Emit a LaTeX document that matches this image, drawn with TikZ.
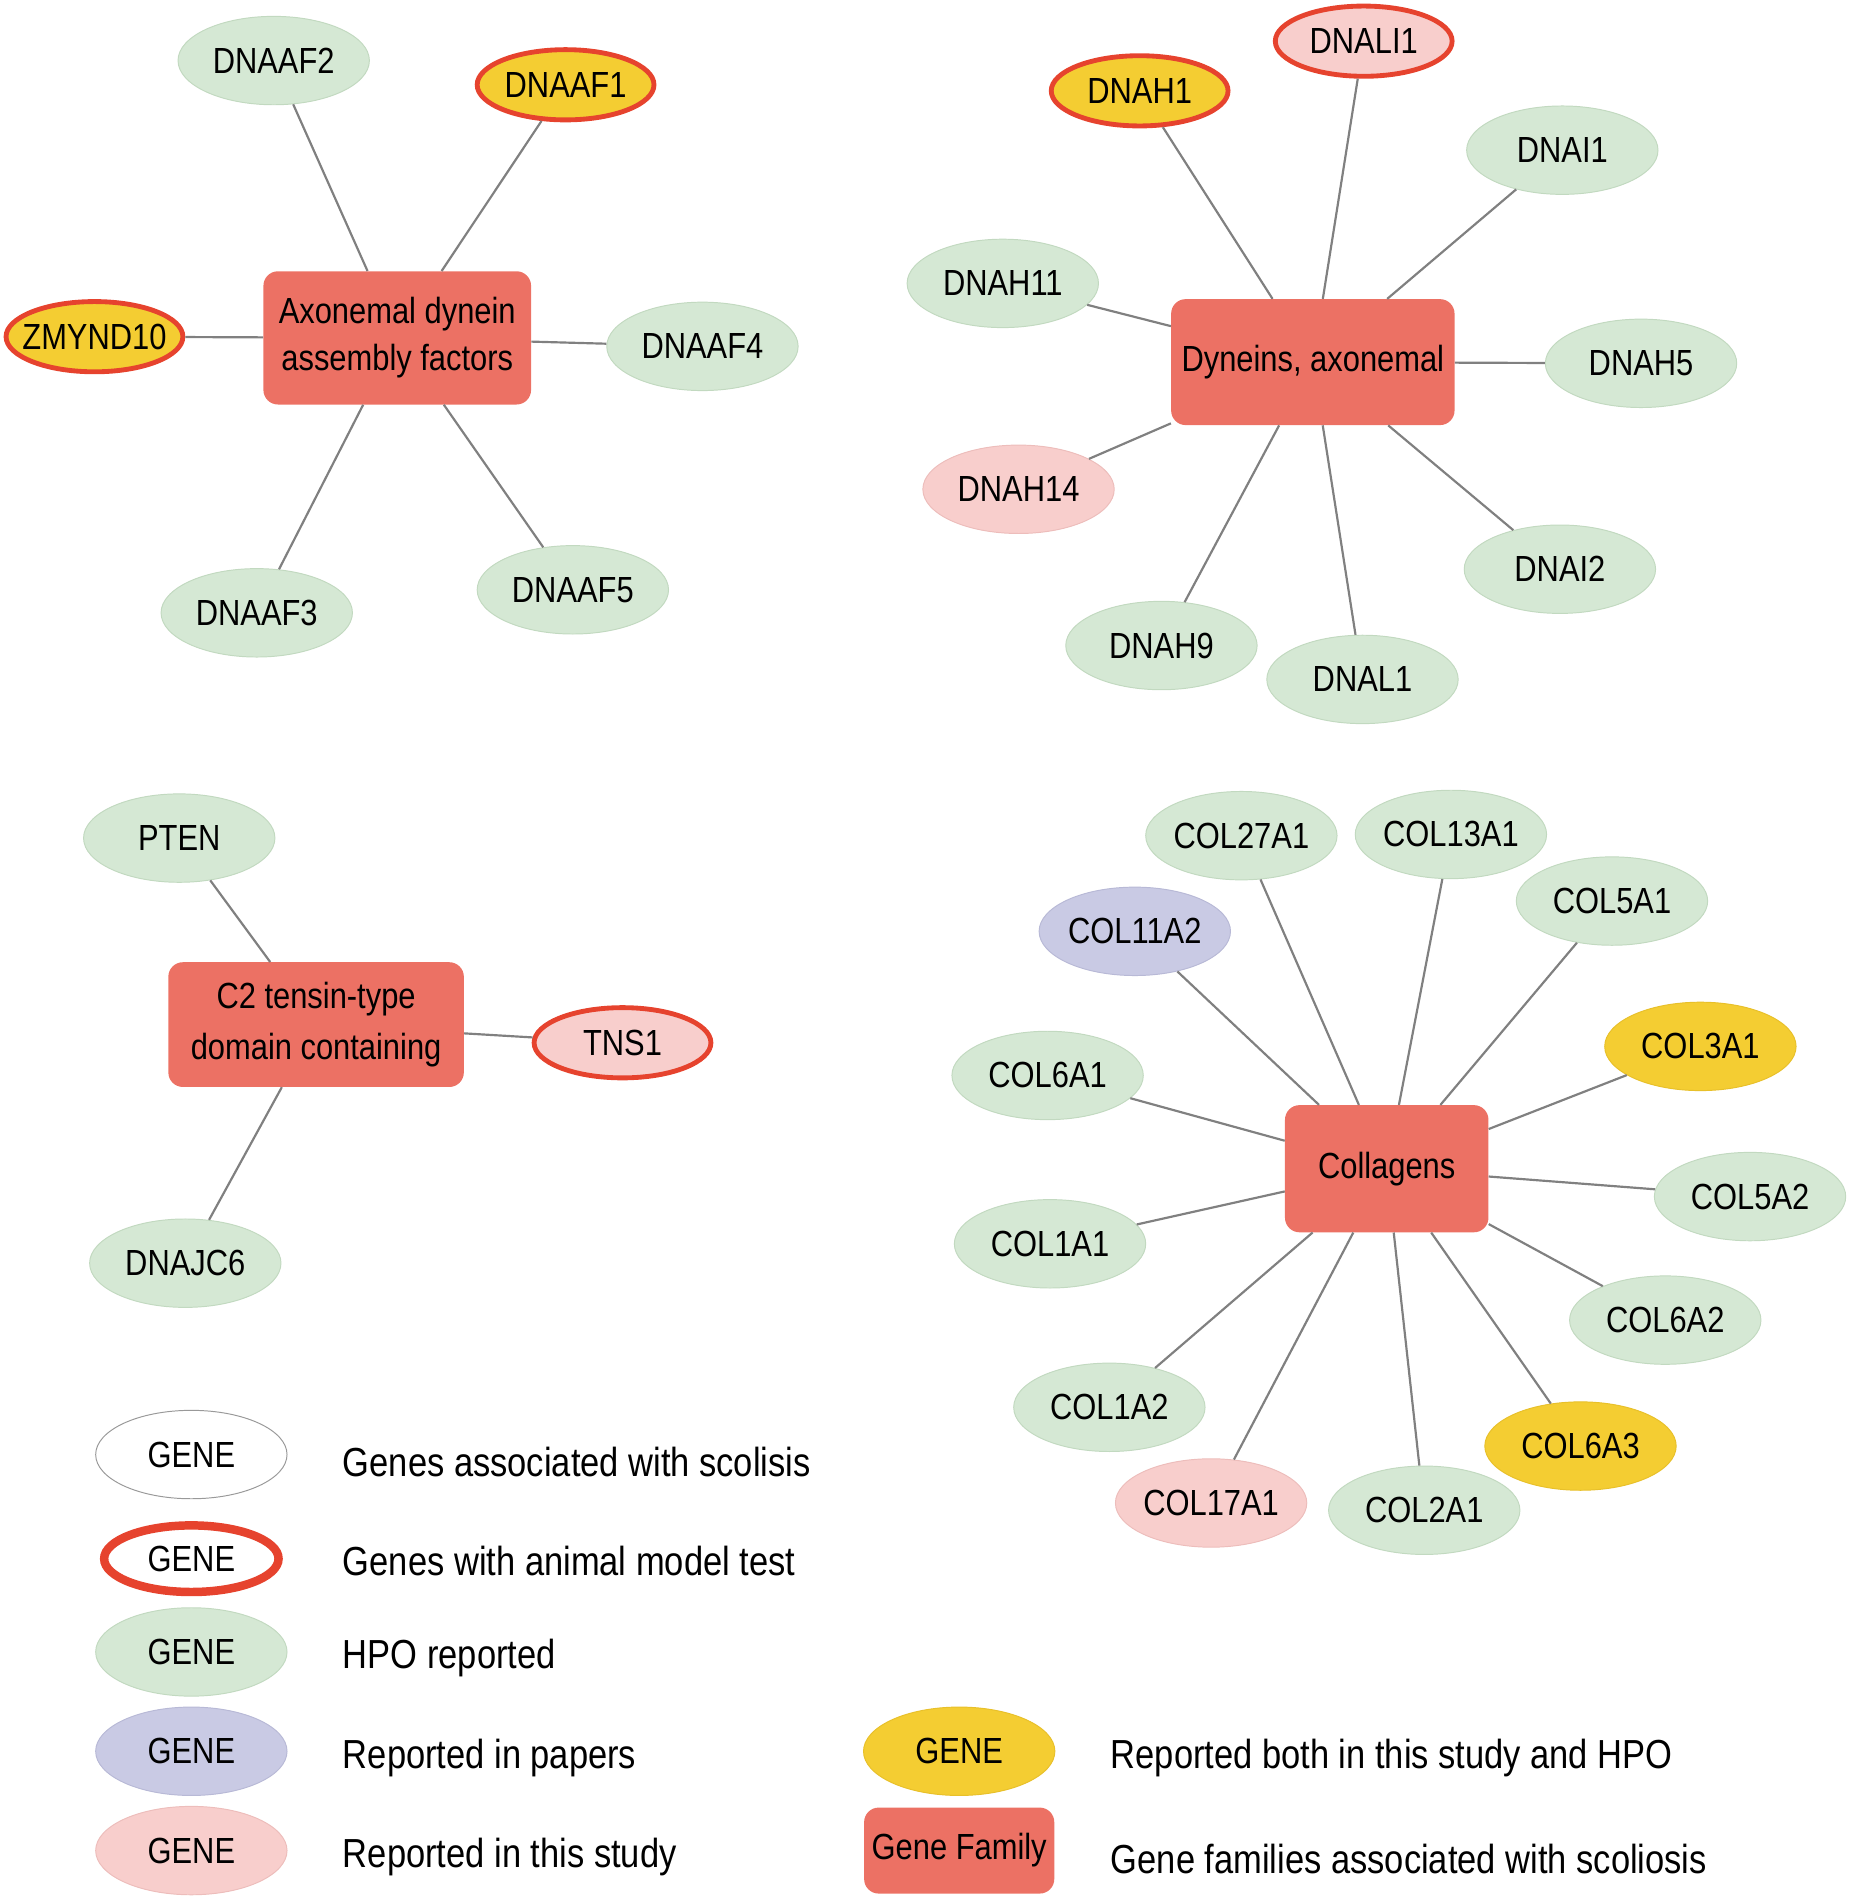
\documentclass[tikz,border=0pt]{standalone}
\usepackage{fontspec}
\setmainfont{Liberation Sans}[FakeStretch=0.85]
\usetikzlibrary{shapes.geometric}
\definecolor{hpogreen}{HTML}{D5E8D4}
\definecolor{hpoedge}{HTML}{C2D9C0}
\definecolor{studypink}{HTML}{F8CECC}
\definecolor{pinkedge}{HTML}{EDBDBB}
\definecolor{paperpurple}{HTML}{C9CAE4}
\definecolor{purpleedge}{HTML}{B8B9D6}
\definecolor{bothyellow}{HTML}{F4CD32}
\definecolor{yellowedge}{HTML}{E8C02A}
\definecolor{animalred}{HTML}{E6432E}
\definecolor{famred}{HTML}{EC7164}
\definecolor{linkgray}{HTML}{808080}
\newcommand{\nodefnt}{\fontsize{30}{39}\selectfont}
\newcommand{\legfnt}{\fontsize{33.5}{40}\selectfont}
\newcommand{\gn}[1]{\makebox[0pt]{#1}}
\tikzset{
  gene/.style={ellipse, minimum width=158pt, minimum height=73pt, inner sep=0pt, font=\nodefnt},
  hpo/.style={gene, fill=hpogreen, draw=hpoedge, line width=0.8pt},
  study/.style={gene, fill=studypink, draw=pinkedge, line width=0.8pt},
  paper/.style={gene, fill=paperpurple, draw=purpleedge, line width=0.8pt},
  both/.style={gene, fill=bothyellow, draw=yellowedge, line width=0.8pt},
  animal/.style={minimum width=146pt, minimum height=58pt, draw=animalred, line width=4pt},
  family/.style={rectangle, rounded corners=12pt, fill=famred, inner sep=0pt, font=\nodefnt, align=center},
  link/.style={draw=linkgray, line width=1.8pt},
  legtext/.style={anchor=base west, inner sep=0pt, font=\legfnt}
}
\begin{document}
\begin{tikzpicture}[x=1pt,y=-1pt]
\useasboundingbox (0,0) rectangle (1527,1568);
% ---------- cluster 1 ----------
\node[family, minimum width=221pt, minimum height=110pt] (f1) at (328,279) {Axonemal dynein\\assembly factors};
\node[hpo] (dnaaf2) at (226,50) {\gn{DNAAF2}};
\node[both, animal] (dnaaf1) at (467,70) {\gn{DNAAF1}};
\node[both, animal] (zmynd10) at (78,278) {\gn{ZMYND10}};
\node[hpo] (dnaaf4) at (580,286) {\gn{DNAAF4}};
\node[hpo] (dnaaf3) at (212,506) {\gn{DNAAF3}};
\node[hpo] (dnaaf5) at (473,487) {\gn{DNAAF5}};
\foreach \n in {dnaaf2,dnaaf1,zmynd10,dnaaf4,dnaaf3,dnaaf5} \draw[link] (f1) -- (\n);
% ---------- cluster 2 ----------
\node[family, minimum width=234pt, minimum height=104pt] (f2) at (1084,299) {Dyneins, axonemal};
\node[both, animal] (dnah1) at (941,75) {\gn{DNAH1}};
\node[study, animal] (dnali1) at (1126,34) {\gn{DNALI1}};
\node[hpo] (dnai1) at (1290,124) {\gn{DNAI1}};
\node[hpo] (dnah11) at (828,234) {\gn{DNAH11}};
\node[hpo] (dnah5) at (1355,300) {\gn{DNAH5}};
\node[study] (dnah14) at (841,404) {\gn{DNAH14}};
\node[hpo] (dnai2) at (1288,470) {\gn{DNAI2}};
\node[hpo] (dnah9) at (959,533) {\gn{DNAH9}};
\node[hpo] (dnal1) at (1125,561) {\gn{DNAL1}};
\foreach \n in {dnah1,dnali1,dnai1,dnah11,dnah5,dnah14,dnai2,dnah9,dnal1} \draw[link] (f2) -- (\n);
% ---------- cluster 3 ----------
\node[family, minimum width=244pt, minimum height=103pt, font=\fontsize{30}{42}\selectfont] (f3) at (261,846) {C2 tensin-type\\domain containing};
\node[hpo] (pten) at (148,692) {\gn{PTEN}};
\node[study, animal] (tns1) at (514,861) {\gn{TNS1}};
\node[hpo] (dnajc6) at (153,1043) {\gn{DNAJC6}};
\foreach \n in {pten,tns1,dnajc6} \draw[link] (f3) -- (\n);
% ---------- cluster 4 ----------
\node[family, minimum width=168pt, minimum height=105pt] (f4) at (1145,965) {Collagens};
\node[hpo] (c27a1) at (1025,690) {\gn{COL27A1}};
\node[hpo] (c13a1) at (1198,689) {\gn{COL13A1}};
\node[hpo] (c5a1) at (1331,744) {\gn{COL5A1}};
\node[paper] (c11a2) at (937,769) {\gn{COL11A2}};
\node[both] (c3a1) at (1404,864) {\gn{COL3A1}};
\node[hpo] (c6a1) at (865,888) {\gn{COL6A1}};
\node[hpo] (c5a2) at (1445,988) {\gn{COL5A2}};
\node[hpo] (c1a1) at (867,1027) {\gn{COL1A1}};
\node[hpo] (c6a2) at (1375,1090) {\gn{COL6A2}};
\node[hpo] (c1a2) at (916,1162) {\gn{COL1A2}};
\node[both] (c6a3) at (1305,1194) {\gn{COL6A3}};
\node[study] (c17a1) at (1000,1241) {\gn{COL17A1}};
\node[hpo] (c2a1) at (1176,1247) {\gn{COL2A1}};
\foreach \n in {c27a1,c13a1,c5a1,c11a2,c3a1,c6a1,c5a2,c1a1,c6a2,c1a2,c6a3,c17a1,c2a1} \draw[link] (f4) -- (\n);
% ---------- legend ----------
\node[gene, fill=white, draw=black!40, line width=0.8pt] (lg1) at (158,1201) {\gn{GENE}};
\node[gene, fill=white, draw=animalred, line width=7pt, minimum width=144pt, minimum height=55pt] (lg2) at (158,1287) {\gn{GENE}};
\node[hpo] (lg3) at (158,1364) {\gn{GENE}};
\node[paper] (lg4) at (158,1446) {\gn{GENE}};
\node[study] (lg5) at (158,1528) {\gn{GENE}};
\node[both] (lg6) at (792,1446) {\gn{GENE}};
\node[family, minimum width=157pt, minimum height=71pt] (lg7) at (792,1528) {Gene Family};
\node[legtext] (lt1) at (283,1219) {Genes associated with scolisis};
\node[legtext] (lt2) at (283,1301) {Genes with animal model test};
\node[legtext] (lt3) at (283,1378) {HPO reported};
\node[legtext] (lt4) at (283,1460) {Reported in papers};
\node[legtext] (lt5) at (283,1542) {Reported in this study};
\node[legtext] (lt6) at (917,1460) {Reported both in this study and HPO};
\node[legtext] (lt7) at (917,1547) {Gene families associated with scoliosis};
\end{tikzpicture}
\end{document}
